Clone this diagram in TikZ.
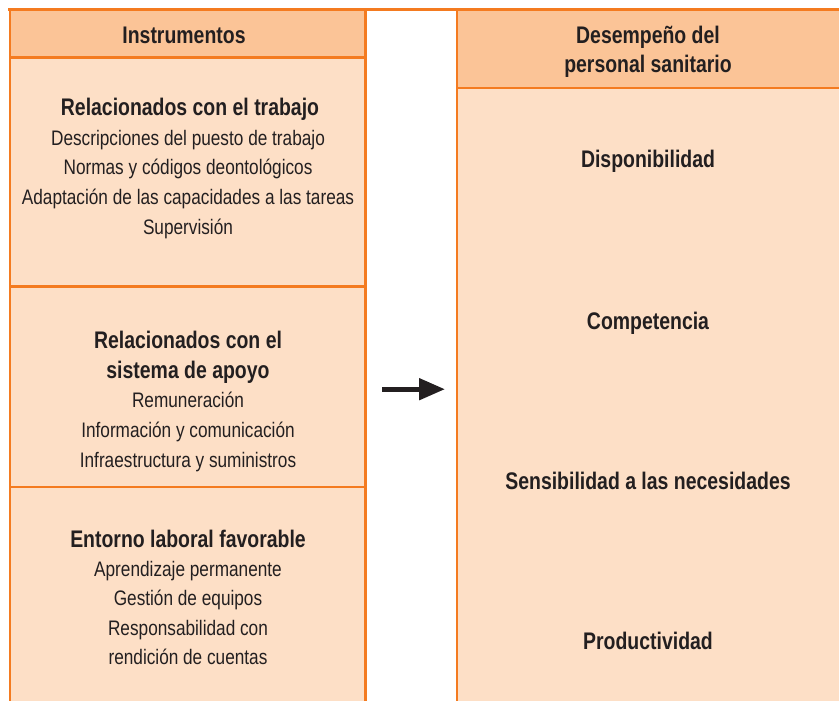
\documentclass[tikz,border=0pt]{standalone}
\usepackage{fontspec}
\setmainfont{Liberation Sans}[FakeStretch=0.82, BoldFeatures={FakeStretch=0.81}]
\usetikzlibrary{arrows.meta}
\definecolor{orng}{HTML}{F47B20}
\definecolor{hdr}{HTML}{FBC497}
\definecolor{bdy}{HTML}{FDDFC6}
\definecolor{ink}{HTML}{231F20}
\tikzset{
  hd/.style={font=\fontsize{24}{28}\selectfont\bfseries, text=ink, anchor=base, inner sep=0pt},
  it/.style={font=\fontsize{21}{25}\selectfont, text=ink, anchor=base, inner sep=0pt},
  rule/.style={draw=orng, line width=2.6pt},
}
\begin{document}
\begin{tikzpicture}[x=1pt,y=-1pt]
\useasboundingbox (0,0) rectangle (839,701);
% fills
\fill[bdy] (10,9) rectangle (365.5,701);
\fill[hdr] (10,9) rectangle (365.5,57.3);
\fill[bdy] (457,9) rectangle (839,701);
\fill[hdr] (457,9) rectangle (839,88);
% borders
\draw[rule] (8,9.3) -- (839,9.3);
\draw[rule] (10,9.3) -- (10,701);
\draw[rule] (365.5,9.3) -- (365.5,701);
\draw[rule] (457,9.3) -- (457,701);
\draw[rule] (10,57.3) -- (365.5,57.3);
\draw[rule] (10,286.3) -- (365.5,286.3);
\draw[rule] (10,487) -- (365.5,487);
\draw[rule] (457,88) -- (839,88);
% left texts
\node[hd] (instr) at (184,44) {Instrumentos};
\node[hd] (s1h) at (190,115) {Relacionados con el trabajo};
\node[it] (s1a) at (188,146) {Descripciones del puesto de trabajo};
\node[it] (s1b) at (188,175) {Normas y códigos deontológicos};
\node[it] (s1c) at (188,204.5) {Adaptación de las capacidades a las tareas};
\node[it] (s1d) at (188,234) {Supervisión};
\node[hd] (s2h1) at (188,348) {Relacionados con el};
\node[hd] (s2h2) at (188,378) {sistema de apoyo};
\node[it] (s2a) at (188,407) {Remuneración};
\node[it] (s2b) at (188,437) {Información y comunicación};
\node[it] (s2c) at (188,467) {Infraestructura y suministros};
\node[hd] (s3h) at (188,547) {Entorno laboral favorable};
\node[it] (s3a) at (188,576) {Aprendizaje permanente};
\node[it] (s3b) at (188,605.5) {Gestión de equipos};
\node[it] (s3c) at (188,635) {Responsabilidad con};
\node[it] (s3d) at (188,664) {rendición de cuentas};
% right texts
\node[hd] (d1) at (648,44) {Desempeño del};
\node[hd] (d2) at (648,73) {personal sanitario};
\node[hd] (r1) at (648,167) {Disponibilidad};
\node[hd] (r2) at (648,329) {Competencia};
\node[hd] (r3) at (648,489) {Sensibilidad a las necesidades};
\node[hd] (r4) at (648,649) {Productividad};
% arrow
\coordinate (a1) at (382,389.2);
\coordinate (a2) at (445,389.2);
\draw[ink, line width=5pt, -{Triangle[length=26pt,width=21pt]}] (a1) -- (a2);
\end{tikzpicture}
\end{document}
